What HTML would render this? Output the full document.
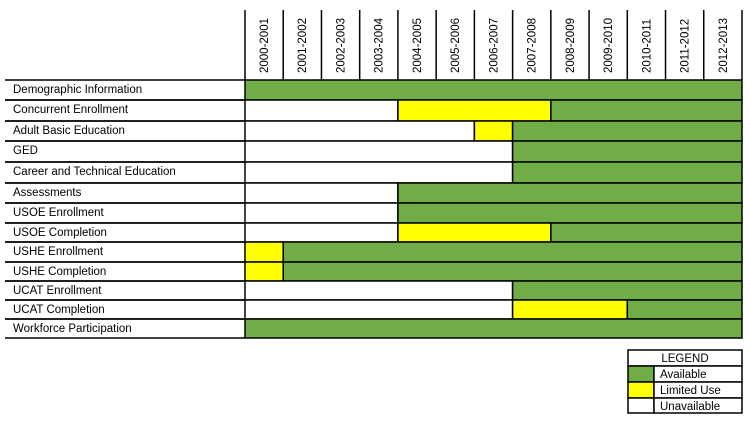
<!DOCTYPE html>
<html><head><style>body{margin:0;background:#fff}svg{display:block}text{font-family:"Liberation Sans",sans-serif;font-size:11.5px;fill:#000}</style></head>
<body>
<svg width="750" height="421" xmlns="http://www.w3.org/2000/svg">
<g id="g"></g>
</svg>
<script>
const G="#70ad47",Y="#ffff00",W="#fff";
const xs=[];for(let i=0;i<=13;i++)xs.push(245+i*38.23);
const ys=[80,100,121,141,162,183,203,223,242,262,281,300,319,338];
const labels=["Demographic Information","Concurrent Enrollment","Adult Basic Education","GED","Career and Technical Education","Assessments","USOE Enrollment","USOE Completion","USHE Enrollment","USHE Completion","UCAT Enrollment","UCAT Completion","Workforce Participation"];
const segs=[
[[0,13,G]],
[[0,4,W],[4,8,Y],[8,13,G]],
[[0,6,W],[6,7,Y],[7,13,G]],
[[0,7,W],[7,13,G]],
[[0,7,W],[7,13,G]],
[[0,4,W],[4,13,G]],
[[0,4,W],[4,13,G]],
[[0,4,W],[4,8,Y],[8,13,G]],
[[0,1,Y],[1,13,G]],
[[0,1,Y],[1,13,G]],
[[0,7,W],[7,13,G]],
[[0,7,W],[7,10,Y],[10,13,G]],
[[0,13,G]]];
let s="";
for(let i=0;i<=13;i++)s+=`<line x1="${xs[i]}" y1="10" x2="${xs[i]}" y2="80" stroke="#000" stroke-width="1.5"/>`;
const yrs=["2000-2001","2001-2002","2002-2003","2003-2004","2004-2005","2005-2006","2006-2007","2007-2008","2008-2009","2009-2010","2010-2011","2011-2012","2012-2013"];
yrs.forEach((t,i)=>{const cx=xs[i]+19+4;s+=`<text transform="translate(${cx},73) rotate(-90)">${t}</text>`});
for(let r=0;r<13;r++){
 const y0=ys[r],y1=ys[r+1];
 s+=`<line x1="5" y1="${y0}" x2="245" y2="${y0}" stroke="#000" stroke-width="1.5"/><line x1="5" y1="${y1}" x2="245" y2="${y1}" stroke="#000" stroke-width="1.5"/>`;
 s+=`<text x="13" y="${y0+13}">${labels[r]}</text>`;
 segs[r].forEach(([a,b,c])=>{s+=`<rect x="${xs[a]}" y="${y0}" width="${xs[b]-xs[a]}" height="${y1-y0}" fill="${c}" stroke="#000" stroke-width="1.5"/>`});
}
const L=[[350,366,null,"LEGEND"],[366,382,G,"Available"],[382,398,Y,"Limited Use"],[398,413,W,"Unavailable"]];
L.forEach(([a,b,c,t])=>{
 if(!c){s+=`<rect x="628" y="${a}" width="114" height="${b-a}" fill="#fff" stroke="#000" stroke-width="1.5"/><text x="685" y="${a+12}" text-anchor="middle">${t}</text>`;}
 else{s+=`<rect x="628" y="${a}" width="26" height="${b-a}" fill="${c}" stroke="#000" stroke-width="1.5"/><rect x="654" y="${a}" width="88" height="${b-a}" fill="#fff" stroke="#000" stroke-width="1.5"/><text x="660" y="${a+12}">${t}</text>`;}
});
document.getElementById("g").innerHTML=s;
</script>
</body></html>
